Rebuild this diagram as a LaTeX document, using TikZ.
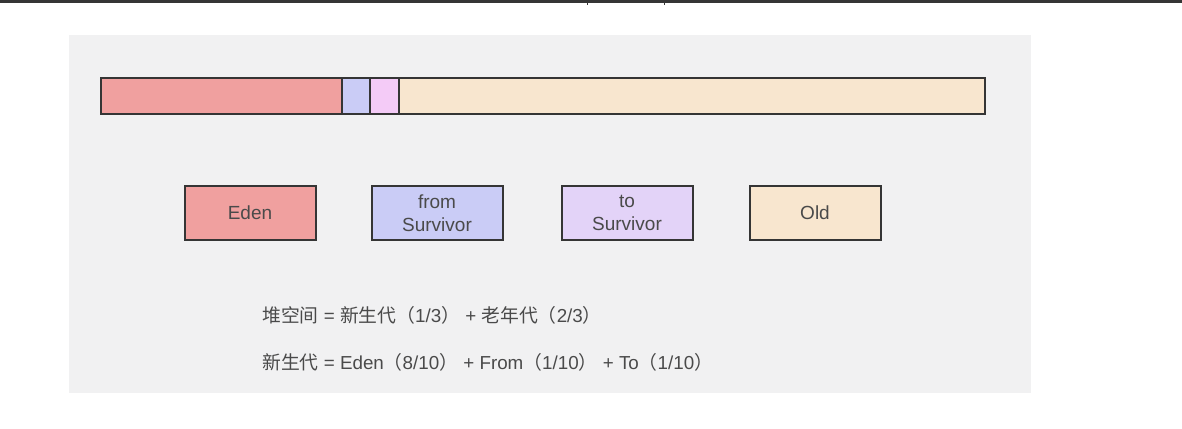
\documentclass[tikz,border=0pt]{standalone}
\usepackage{fontspec}
\setmainfont{Liberation Sans}
\newfontfamily\cjk{Noto Sans CJK SC}
\definecolor{panel}{HTML}{F1F1F2}
\definecolor{edenc}{HTML}{F0A09F}
\definecolor{fromc}{HTML}{CACCF6}
\definecolor{toc}{HTML}{F4CBF7}
\definecolor{toboxc}{HTML}{E3D3F8}
\definecolor{oldc}{HTML}{F8E6CF}
\definecolor{edge}{HTML}{353535}
\definecolor{txt}{HTML}{4A4A4A}
\tikzset{
  seg/.style={draw=edge, line width=2pt},
  part/.style={draw=edge, line width=2pt, minimum width=131pt, minimum height=54pt, inner sep=0pt, align=center, text=txt, font=\fontsize{19}{23}\selectfont},
  formula/.style={anchor=west, inner sep=0pt, text=txt, font=\fontsize{18.8}{22}\selectfont}
}
\begin{document}
\begin{tikzpicture}[x=1pt,y=-1pt]
\useasboundingbox (0,0) rectangle (1182,428);
\fill[white] (0,0) rectangle (1182,428);
% top dark band
\fill[edge] (0,0) rectangle (1182,2.8);
\draw[edge, line width=1pt] (587,2.5) -- (587,5);
\draw[edge, line width=1pt] (664,2.5) -- (664,5);
% panel
\fill[panel] (69,35) rectangle (1031,393);
% heap bar
\filldraw[seg, fill=edenc] (101,78) rectangle (342,114);
\filldraw[seg, fill=fromc] (342,78) rectangle (370,114);
\filldraw[seg, fill=toc] (370,78) rectangle (399,114);
\filldraw[seg, fill=oldc] (399,78) rectangle (985,114);
% boxes
\node[part, fill=edenc] (eden) at (250,213) {Eden};
\node[part, fill=fromc] (from) at (437,213) {from\\Survivor};
\node[part, fill=toboxc] (to) at (627,213) {to\\Survivor};
\node[part, fill=oldc] (old) at (815,213) {Old};
% formulas
\node[formula] (f1) at (262,315) {{\cjk 堆空间} = {\cjk 新生代（}1/3{\cjk ）} + {\cjk 老年代（}2/3{\cjk ）}};
\node[formula] (f2) at (262,362) {{\cjk 新生代} = Eden{\cjk （}8/10{\cjk ）} + From{\cjk （}1/10{\cjk ）} + To{\cjk （}1/10{\cjk ）}};
\end{tikzpicture}
\end{document}
